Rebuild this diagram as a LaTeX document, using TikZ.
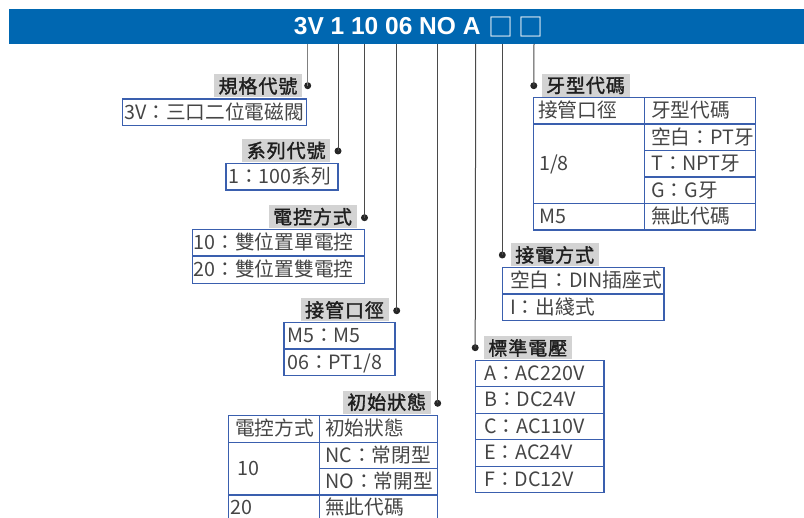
\documentclass[tikz,border=0pt]{standalone}
\usepackage{fontspec}
\newfontfamily\cjk{Noto Sans CJK TC}
\newfontfamily\cjklbl{Noto Sans CJK TC}[FakeBold=1.6, LetterSpace=5]
\newfontfamily\barfont{Liberation Sans}
\definecolor{barblue}{HTML}{0067B1}
\definecolor{lblgray}{HTML}{D3D3D3}
\definecolor{lbltext}{HTML}{1E1E1E}
\definecolor{boxtext}{HTML}{454545}
\definecolor{boxblue}{HTML}{3A5FAE}
\definecolor{leadgray}{HTML}{4A4A4A}
\tikzset{
  lbl/.style={fill=lblgray, inner sep=0pt, text=lbltext, minimum width=88pt, minimum height=23pt,
              font=\cjklbl\fontsize{19}{19}\selectfont},
  txt/.style={anchor=base west, inner sep=0pt, text=boxtext, font=\cjk\fontsize{19.7}{19.7}\selectfont},
  frame/.style={draw=boxblue, line width=1.3pt},
  dot/.style={circle, fill=black!85, inner sep=0pt, minimum size=7pt},
  lead/.style={draw=leadgray, line width=1pt},
  sqr/.style={anchor=center, inner sep=0pt, text=white, font=\cjk\fontsize{25}{25}\selectfont},
}
\begin{document}
\begin{tikzpicture}[x=1pt,y=-1pt]
\useasboundingbox (0,0) rectangle (804,518);
% top bar
\fill[barblue] (9,9) rectangle (804,44);
\node[anchor=base, inner sep=0pt, text=white, font=\barfont\bfseries\fontsize{24.5}{24.5}\selectfont] (code) at (387.2,35) {3V 1 10 06 NO A};
\node[sqr] (sq1) at (500.5,27.2) {□};
\node[sqr] (sq2) at (531.2,27.2) {□};
% bar tap points
\coordinate (t1) at (307.7,44);
\coordinate (t2) at (338,44);
\coordinate (t3) at (364.5,44);
\coordinate (t4) at (396.7,44);
\coordinate (t5) at (437.7,44);
\coordinate (t6) at (475.7,44);
\coordinate (t7) at (502.3,44);
\coordinate (t8) at (534,44);
% dots
\node[dot] (d1) at (307.7,85.7) {};
\node[dot] (d2) at (338,151) {};
\node[dot] (d3) at (364.5,217.7) {};
\node[dot] (d4) at (396.7,310.7) {};
\node[dot] (d5) at (437.7,403.3) {};
\node[dot] (d6) at (475.2,347.7) {};
\node[dot] (d7) at (502.3,255) {};
\node[dot] (d8) at (533.8,85.7) {};
\draw[lead, draw=gray] (t1) -- (d1.center);
\draw[lead] (t2) -- (d2.center);
\draw[lead] (t3) -- (d3.center);
\draw[lead] (t4) -- (d4.center);
\draw[lead] (t5) -- (d5.center);
\draw[lead] (t6) -- (d6.center);
\draw[lead] (t7) -- (d7.center);
\draw[lead] (t8) -- (d8.center);
% labels
\node[lbl] (L1) at (258,86) {規格代號};
\node[lbl] (L2) at (286.2,150.5) {系列代號};
\node[lbl] (L3) at (312.5,216.7) {電控方式};
\node[lbl] (L4) at (344.5,310) {接管口徑};
\node[lbl] (L5) at (386.7,402.2) {初始狀態};
\node[lbl] (L6) at (585.5,85.4) {牙型代碼};
\node[lbl] (L7) at (554.7,255) {接電方式};
\node[lbl] (L8) at (527.8,348) {標準電壓};
% box 1
\draw[frame] (122.3,99) rectangle (306.7,125.7);
\node[txt] (b1) at (124,119.5) {3V：三口二位電磁閥};
% box 2
\draw[frame] (226,163.7) rectangle (338,190);
\node[txt] (b2) at (228,184) {1：100系列};
% box 3
\draw[frame] (192.7,229.3) rectangle (364.3,283.3);
\draw[frame] (192.7,256) -- (364.3,256);
\node[txt] (b3a) at (193.5,249.5) {10：雙位置單電控};
\node[txt] (b3b) at (193.5,276.5) {20：雙位置雙電控};
% box 4
\draw[frame] (284,322.3) rectangle (395,375.7);
\draw[frame] (284,349) -- (395,349);
\node[txt] (b4a) at (287,342.5) {M5：M5};
\node[txt] (b4b) at (287,369.5) {06：PT1/8};
% table initial state (bottom left)
\draw[frame] (228.3,530) -- (228.3,415.7) -- (437.3,415.7) -- (437.3,530);
\draw[frame] (319.3,415.7) -- (319.3,530);
\draw[frame] (228.3,442.3) -- (437.3,442.3);
\draw[frame] (319.3,468.3) -- (437.3,468.3);
\draw[frame] (228.3,495) -- (437.3,495);
\node[txt] (c1) at (235,436) {電控方式};
\node[txt] (c2) at (325,436) {初始狀態};
\node[txt] (c3) at (237,475.3) {10};
\node[txt] (c4) at (325,462.3) {NC：常閉型};
\node[txt] (c5) at (325,488.6) {NO：常開型};
\node[txt] (c6) at (230,515) {20};
\node[txt] (c7) at (325,515) {無此代碼};
% table thread type (top right)
\draw[frame] (533.7,97.7) rectangle (755.3,230);
\draw[frame] (644.3,97.7) -- (644.3,230);
\draw[frame] (533.7,124) -- (755.3,124);
\draw[frame] (644.3,150.3) -- (755.3,150.3);
\draw[frame] (644.3,177) -- (755.3,177);
\draw[frame] (533.7,203.3) -- (755.3,203.3);
\node[txt] (r1) at (538,117.8) {接管口徑};
\node[txt] (r2) at (651,117.8) {牙型代碼};
\node[txt] (r3) at (651,144.1) {空白：PT牙};
\node[txt] (r4) at (539,170.6) {1/8};
\node[txt] (r5) at (651,170.6) {T：NPT牙};
\node[txt] (r6) at (651,197.1) {G：G牙};
\node[txt] (r7) at (539,223.6) {M5};
\node[txt] (r8) at (651,223.6) {無此代碼};
% box connection type
\draw[frame] (502.7,267.7) rectangle (664,320.7);
\draw[frame] (502.7,294) -- (664,294);
\node[txt] (e1) at (510,287.8) {空白：DIN插座式};
\node[txt] (e2) at (510,314.3) {I：出綫式};
% box voltage
\draw[frame] (475.7,360.7) rectangle (604,492.3);
\draw[frame] (475.7,386.7) -- (604,386.7);
\draw[frame] (475.7,413.3) -- (604,413.3);
\draw[frame] (475.7,439.7) -- (604,439.7);
\draw[frame] (475.7,466.3) -- (604,466.3);
\node[txt] (v1) at (484,380.7) {A：AC220V};
\node[txt] (v2) at (484,407) {B：DC24V};
\node[txt] (v3) at (484,433.5) {C：AC110V};
\node[txt] (v4) at (484,460) {E：AC24V};
\node[txt] (v5) at (484,486.3) {F：DC12V};
\end{tikzpicture}
\end{document}
